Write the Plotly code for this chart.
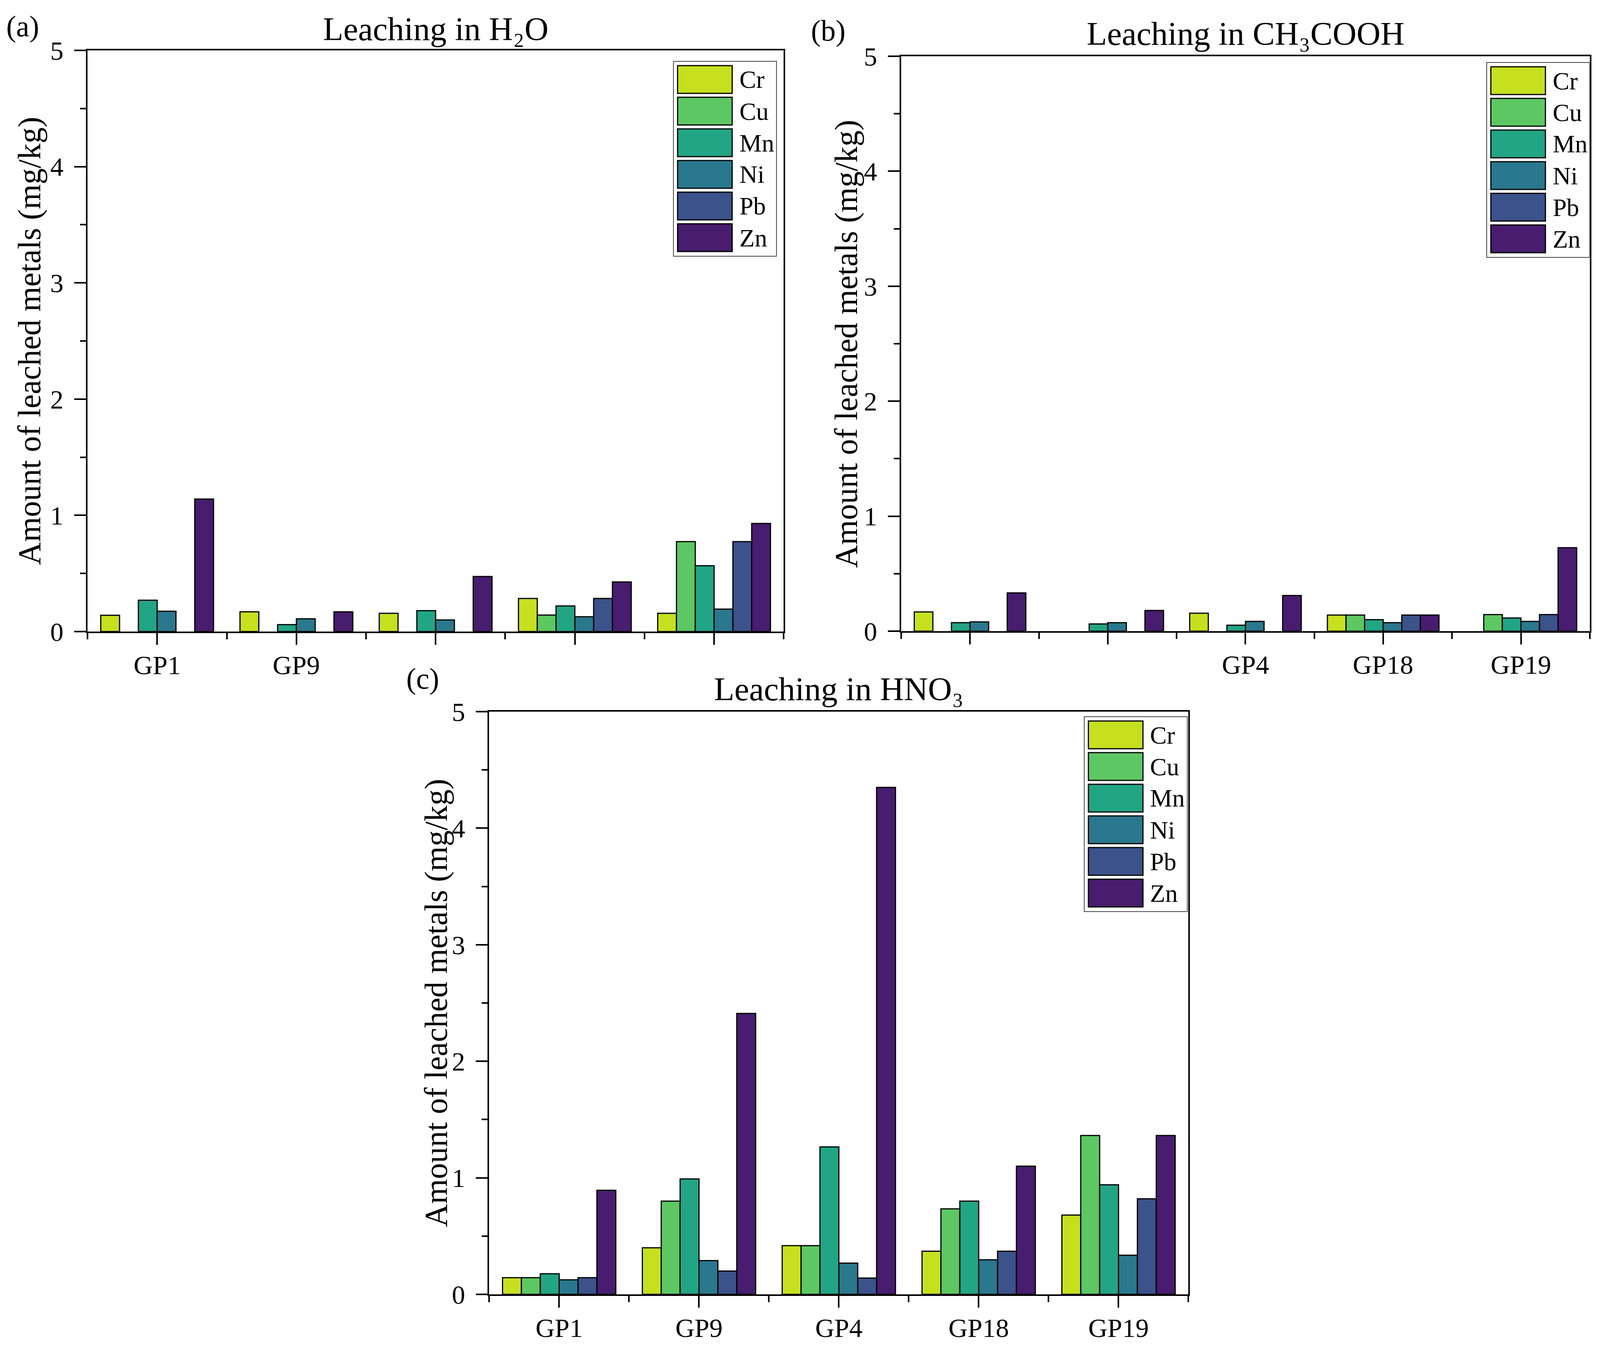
import plotly.graph_objects as go

# ---------------- data ----------------
CATEGORIES = ["GP1", "GP9", "GP4", "GP18", "GP19"]
METALS = ["Cr", "Cu", "Mn", "Ni", "Pb", "Zn"]
COLORS = ["#C6E01F", "#5DC863", "#21A585", "#2A788E", "#3B528B", "#481C6E"]

# category labels that remain visible in each panel (the rest are hidden behind panel c)
TICKS_A = ["GP1", "GP9"]
TICKS_B = ["GP4", "GP18", "GP19"]
TICKS_C = ["GP1", "GP9", "GP4", "GP18", "GP19"]

# (a) Leaching in H2O  (mg/kg)
H2O_CR = [0.14, 0.17, 0.157, 0.285, 0.157]
H2O_CU = [None, None, None, 0.142, 0.774]
H2O_MN = [0.27, 0.06, 0.18, 0.22, 0.566]
H2O_NI = [0.175, 0.11, 0.10, 0.128, 0.193]
H2O_PB = [None, None, None, 0.285, 0.774]
H2O_ZN = [1.14, 0.17, 0.474, 0.427, 0.93]

# (b) Leaching in CH3COOH
AC_CR = [0.167, None, 0.156, 0.14, None]
AC_CU = [None, None, None, 0.14, 0.144]
AC_MN = [0.074, 0.063, 0.052, 0.10, 0.115]
AC_NI = [0.081, 0.074, 0.085, 0.074, 0.085]
AC_PB = [None, None, None, 0.14, 0.144]
AC_ZN = [0.333, 0.18, 0.31, 0.14, 0.726]

# (c) Leaching in HNO3
HN_CR = [0.143, 0.40, 0.418, 0.37, 0.68]
HN_CU = [0.143, 0.80, 0.418, 0.734, 1.363]
HN_MN = [0.177, 0.99, 1.265, 0.80, 0.94]
HN_NI = [0.125, 0.29, 0.268, 0.297, 0.336]
HN_PB = [0.143, 0.20, 0.14, 0.37, 0.82]
HN_ZN = [0.893, 2.41, 4.35, 1.10, 1.363]

TITLES = ["Leaching in H₂O", "Leaching in CH₃COOH", "Leaching in HNO₃"]
PANEL_LABELS = ["(a)", "(b)", "(c)"]
Y_TITLE = "Amount of leached metals (mg/kg)"

# ---------------- layout geometry ----------------
# positions below are given in reference-image pixels (4222 x 3459);
# the page is photographed in a 4096 x 3459 viewport with an 8 px body margin.
REF_W, REF_H = 4222, 3459
VIEW_W, VIEW_H = 4096, 3459
MARGIN = 8
FIG_W, FIG_H = VIEW_W - MARGIN, VIEW_H - MARGIN
FONT = "Liberation Serif"


def px(x):
    return (x * VIEW_W / REF_W - MARGIN) / FIG_W


def py(y):
    return 1 - (y * VIEW_H / REF_H - MARGIN) / FIG_H


panels = [
    dict(L=231, R=2068, T=129, B=1617, leg=(1777, 157), title_y=74, lab=(60, 68), ytx=78,
         data=[H2O_CR, H2O_CU, H2O_MN, H2O_NI, H2O_PB, H2O_ZN], ticks=TICKS_A),
    dict(L=2378, R=4195, T=144, B=1616, leg=(3923, 160), title_y=86, lab=(2186, 78), ytx=2233,
         data=[AC_CR, AC_CU, AC_MN, AC_NI, AC_PB, AC_ZN], ticks=TICKS_B),
    dict(L=1291, R=3136, T=1822, B=3314, leg=(2861, 1835), title_y=1764, lab=(1115, 1737), ytx=1150,
         data=[HN_CR, HN_CU, HN_MN, HN_NI, HN_PB, HN_ZN], ticks=TICKS_C),
]

fig = go.Figure()
xpos = list(range(len(CATEGORIES)))
shapes = []
annotations = []

for i, p in enumerate(panels):
    sfx = "" if i == 0 else str(i + 1)
    for m, (name, col) in enumerate(zip(METALS, COLORS)):
        fig.add_trace(go.Bar(
            x=xpos, y=p["data"][m], name=name,
            marker=dict(color=col, line=dict(color="black", width=3)),
            xaxis="x" + sfx, yaxis="y" + sfx, showlegend=False,
        ))

    common = dict(showline=True, linecolor="black", linewidth=4, mirror=True,
                  ticks="outside", ticklen=30, tickwidth=4, tickcolor="black",
                  tickfont=dict(family=FONT, size=68, color="black"),
                  showgrid=False, zeroline=False, automargin=False)
    fig.update_layout(**{
        "xaxis" + sfx: dict(common, domain=[px(p["L"]), px(p["R"])], anchor="y" + sfx,
                            range=[-0.5, len(CATEGORIES) - 0.5], tickmode="array",
                            tickvals=xpos, showticklabels=False,
                            minor=dict(ticks="outside", tickmode="array",
                                       tickvals=[k - 0.5 for k in range(len(CATEGORIES) + 1)],
                                       ticklen=16, tickwidth=4, tickcolor="black")),
        "yaxis" + sfx: dict(common, domain=[py(p["B"]), py(p["T"])], anchor="x" + sfx,
                            range=[0, 5], tickmode="linear", tick0=0, dtick=1,
                            ticklabelstandoff=14,
                            minor=dict(ticks="outside", dtick=0.5, ticklen=15, tickwidth=4,
                                       tickcolor="black")),
    })

    # category labels (only those visible in the reference)
    for lab in p["ticks"]:
        annotations.append(dict(text=lab, x=CATEGORIES.index(lab), y=py(p["B"] + 86),
                                xref="x" + sfx, yref="paper", showarrow=False,
                                xanchor="center", yanchor="middle",
                                font=dict(family=FONT, size=68, color="black")))
    # title
    annotations.append(dict(text=TITLES[i], x=px((p["L"] + p["R"]) / 2), y=py(p["title_y"]),
                            xref="paper", yref="paper", showarrow=False, xanchor="center",
                            yanchor="middle", font=dict(family=FONT, size=85, color="black")))
    # panel label
    annotations.append(dict(text=PANEL_LABELS[i], x=px(p["lab"][0]), y=py(p["lab"][1]),
                            xref="paper", yref="paper", showarrow=False, xanchor="center",
                            yanchor="middle", font=dict(family=FONT, size=76, color="black")))
    # y axis title
    annotations.append(dict(text=Y_TITLE, x=px(p["ytx"]), y=py((p["T"] + p["B"]) / 2),
                            xref="paper", yref="paper", showarrow=False, textangle=-90,
                            xanchor="center", yanchor="middle",
                            font=dict(family=FONT, size=82, color="black")))

    # legend (drawn manually to reproduce the large swatches)
    lx, ly = p["leg"]
    lw, lh = 272, 499
    shapes.append(dict(type="rect", xref="paper", yref="paper",
                       x0=px(lx), x1=px(lx + lw), y0=py(ly + lh), y1=py(ly),
                       line=dict(color="#444444", width=2), fillcolor="white", layer="above"))
    for m, (name, col) in enumerate(zip(METALS, COLORS)):
        sy = ly + 11 + m * 81
        shapes.append(dict(type="rect", xref="paper", yref="paper",
                           x0=px(lx + 11), x1=px(lx + 155), y0=py(sy + 71), y1=py(sy),
                           line=dict(color="black", width=3), fillcolor=col, layer="above"))
        annotations.append(dict(text=name, x=px(lx + 172), y=py(sy + 36), xref="paper",
                                yref="paper", showarrow=False, xanchor="left", yanchor="middle",
                                font=dict(family=FONT, size=64, color="black")))

fig.update_layout(
    width=FIG_W, height=FIG_H, autosize=False,
    margin=dict(l=0, r=0, t=0, b=0, pad=0, autoexpand=False),
    paper_bgcolor="white", plot_bgcolor="white",
    barmode="group", bargap=0.19, bargroupgap=0,
    shapes=shapes, annotations=annotations,
    font=dict(family=FONT, color="black"),
)

fig.write_html("out.html")
